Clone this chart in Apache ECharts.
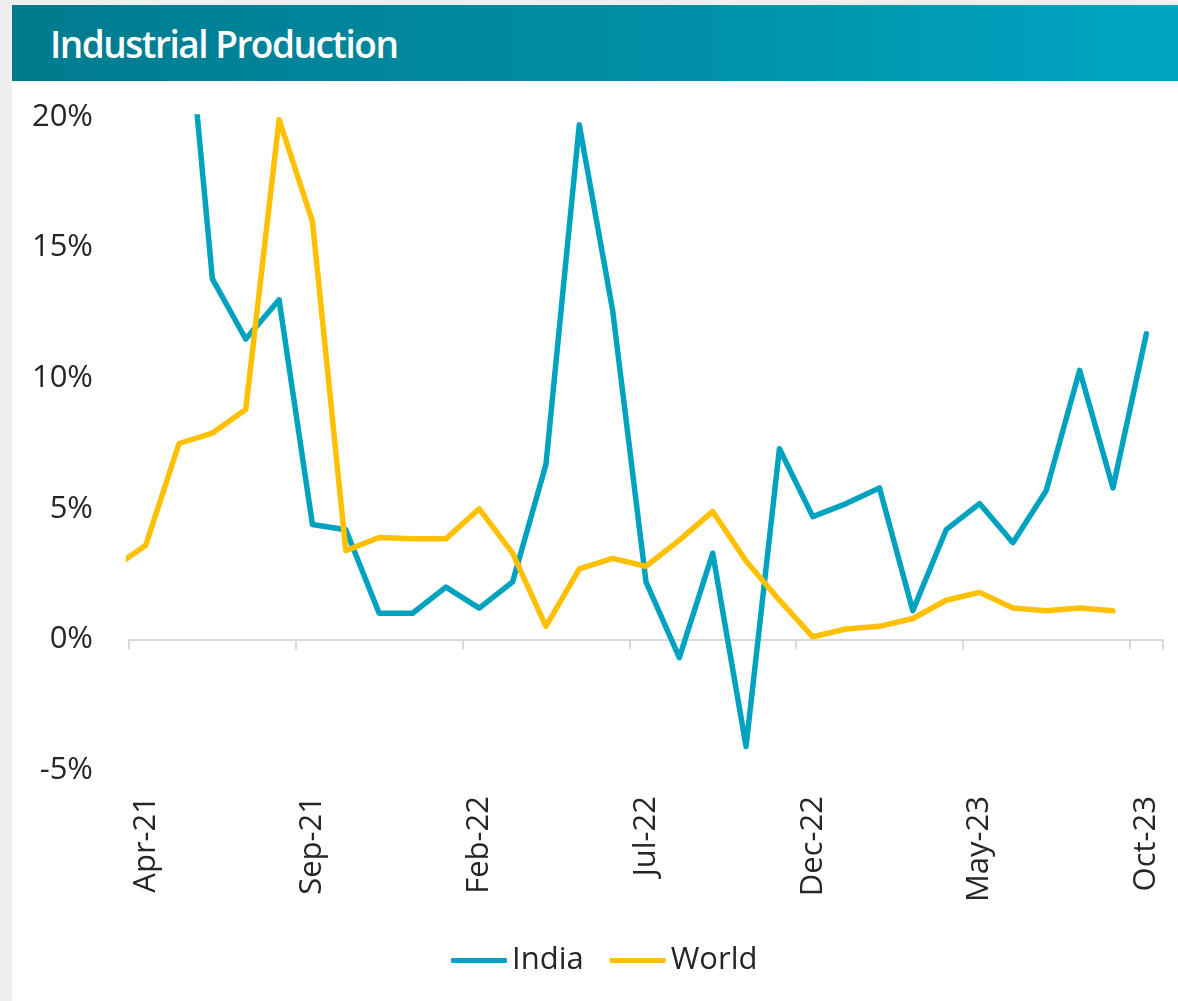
<!DOCTYPE html>
<html>
<head>
<meta charset="utf-8">
<script src="https://cdn.jsdelivr.net/npm/echarts@6/dist/echarts.min.js"></script>
<style>
  html, body { margin: 0; padding: 0; background: #efefef; }
  .card { position: absolute; left: 12px; top: 5px; width: 1166px; height: 996px; background: #fff; }
  .head {
    position: absolute; left: 0; top: 0; width: 100%; height: 76px;
    background: linear-gradient(90deg, #007b8e 0%, #008fa6 55%, #00a5c2 100%);
  }
  .head span {
    position: absolute; left: 38px; top: 13px;
    font-family: 'Open Sans', sans-serif; font-weight: 600; font-size: 37px;
    letter-spacing: -1.5px; color: #fff;
  }
  #chart { position: absolute; left: 0; top: 0; width: 1178px; height: 1001px; }
</style>
</head>
<body>
<div class="card"><div class="head"><span>Industrial Production</span></div></div>
<div id="chart"></div>
<script>
// monthly, Mar-21 .. Oct-23 (Mar-21 only feeds the clipped stub at the left edge)
const months = ['Mar-21', 'Apr-21', 'May-21', 'Jun-21', 'Jul-21', 'Aug-21', 'Sep-21', 'Oct-21', 'Nov-21', 'Dec-21',
  'Jan-22', 'Feb-22', 'Mar-22', 'Apr-22', 'May-22', 'Jun-22', 'Jul-22', 'Aug-22', 'Sep-22', 'Oct-22', 'Nov-22', 'Dec-22',
  'Jan-23', 'Feb-23', 'Mar-23', 'Apr-23', 'May-23', 'Jun-23', 'Jul-23', 'Aug-23', 'Sep-23', 'Oct-23']

const india = [24.2, 134, 27.6, 13.8, 11.5, 13.0, 4.4, 4.2, 1.0, 1.0,
  2.0, 1.2, 2.2, 6.7, 19.7, 12.6, 2.2, -0.7, 3.3, -4.1, 7.3, 4.7,
  5.2, 5.8, 1.1, 4.2, 5.2, 3.7, 5.7, 10.3, 5.8, 11.7]

const world = [2.7, 3.6, 7.5, 7.9, 8.8, 19.9, 16.0, 3.4, 3.9, 3.85,
  3.85, 5.0, 3.3, 0.5, 2.7, 3.1, 2.8, 3.8, 4.9, 3.0, 1.5, 0.1,
  0.4, 0.5, 0.8, 1.5, 1.8, 1.2, 1.1, 1.2, 1.1, null]

const yTicks = [-5, 0, 5, 10, 15, 20]

const chart = echarts.init(document.getElementById('chart'))
const font = "'Open Sans', sans-serif"
const every5 = function (i) { return (i - 1) % 5 === 0 }

chart.setOption({
  animation: false,
  grid: { left: 129, right: 15, top: 117, bottom: 231 },
  legend: {
    left: 446,
    top: 940,
    icon: 'roundRect',
    itemWidth: 56,
    itemHeight: 5,
    itemGap: 26,
    textStyle: { fontFamily: font, fontSize: 31, color: '#262626' },
    data: ['India', 'World']
  },
  xAxis: [
    {
      type: 'category',
      data: months,
      min: 1,
      boundaryGap: true,
      axisLine: { onZero: true, lineStyle: { color: '#d9d9d9', width: 2 } },
      axisTick: { show: true, interval: every5, length: 10, lineStyle: { color: '#d9d9d9', width: 2 } },
      axisLabel: { show: false },
      splitLine: { show: false }
    },
    {
      type: 'category',
      data: months,
      min: 1,
      position: 'bottom',
      boundaryGap: true,
      axisLine: { show: false },
      axisTick: { show: false },
      axisLabel: {
        interval: every5,
        rotate: 90,
        margin: 26,
        fontFamily: font,
        fontSize: 31,
        color: '#262626'
      },
      splitLine: { show: false }
    }
  ],
  yAxis: {
    type: 'value',
    min: yTicks[0],
    max: yTicks[yTicks.length - 1],
    interval: 5,
    axisLine: { show: false },
    axisTick: { show: false },
    splitLine: { show: false },
    axisLabel: {
      formatter: '{value}%',
      margin: 36,
      fontFamily: font,
      fontSize: 31,
      color: '#262626'
    }
  },
  series: [
    {
      name: 'India',
      type: 'line',
      xAxisIndex: 0,
      data: india,
      symbol: 'none',
      color: '#00a3bf',
      lineStyle: { width: 5.5, cap: 'round', join: 'round' }
    },
    {
      name: 'World',
      type: 'line',
      xAxisIndex: 0,
      data: world,
      symbol: 'none',
      color: '#ffc000',
      lineStyle: { width: 5.5, cap: 'round', join: 'round' }
    }
  ]
})
</script>
</body>
</html>
